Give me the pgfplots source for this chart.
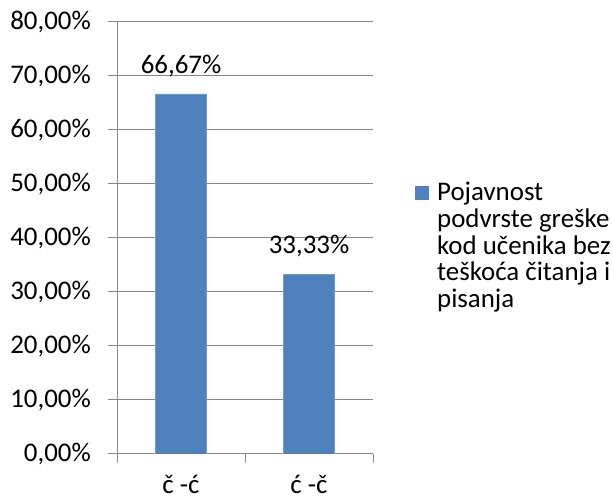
\documentclass[border=0pt]{standalone}
\usepackage{pgfplots}
\pgfplotsset{compat=1.18}
\usepackage{fontspec}
\setmainfont{Carlito}
\definecolor{barblue}{RGB}{79,129,189}
\definecolor{gridgray}{RGB}{134,134,134}
\begin{document}
\fontsize{27}{27}\selectfont
\begin{tikzpicture}[x=1bp,y=1bp]
\path[use as bounding box] (0,0) rectangle (613,499);
\begin{axis}[
  at={(117bp,45bp)}, anchor=south west,
  scale only axis, width=256bp, height=432bp,
  ybar, bar width=51bp,
  xmin=-0.5, xmax=1.5, ymin=0, ymax=80,
  axis x line*=bottom, axis y line*=left,
  xtick={-0.5,0.5,1.5}, xticklabels={},
  extra x ticks={0,1}, extra x tick labels={č -ć,ć -č},
  extra x tick style={major tick length=0pt, grid=none, tick label style={yshift=-12bp}},
  ytick={0,10,...,80}, ymajorgrids,
  grid style={gridgray, line width=1bp},
  tick align=outside, major tick length=9bp,
  tick style={gridgray, line width=1bp},
  axis line style={gridgray, line width=1bp},
  /pgf/number format/assume math mode=true,
  yticklabel={\pgfmathprintnumber[fixed,fixed zerofill,precision=2,use comma]{\tick}\%},
  tick label style={font=\fontsize{27}{27}\selectfont, text=black},
  yticklabel style={xshift=-8bp},
  nodes near coords={\pgfmathprintnumber[fixed,fixed zerofill,precision=2,use comma]{\pgfplotspointmeta}\%},
  nodes near coords style={font=\fontsize{27}{27}\selectfont, text=black, yshift=8bp},
  legend style={draw=none, fill=none, at={(1.1756,0.64)}, anchor=north west,
    font=\fontsize{27}{27}\selectfont, cells={align=left}},
]
\addplot[fill=barblue, draw=barblue!80!white,
  legend image code/.code={\path[fill=none,draw=none] (0bp,-7bp) rectangle (14bp,7bp);
    \fill[barblue,draw=none,overlay] (-6bp,47bp) rectangle (8bp,61bp);}]
  coordinates {(0,66.67) (1,33.33)};
\addlegendentry{Pojavnost\\podvrste greške\\kod učenika bez\\teškoća čitanja i\\pisanja}
\end{axis}
\end{tikzpicture}
\end{document}
